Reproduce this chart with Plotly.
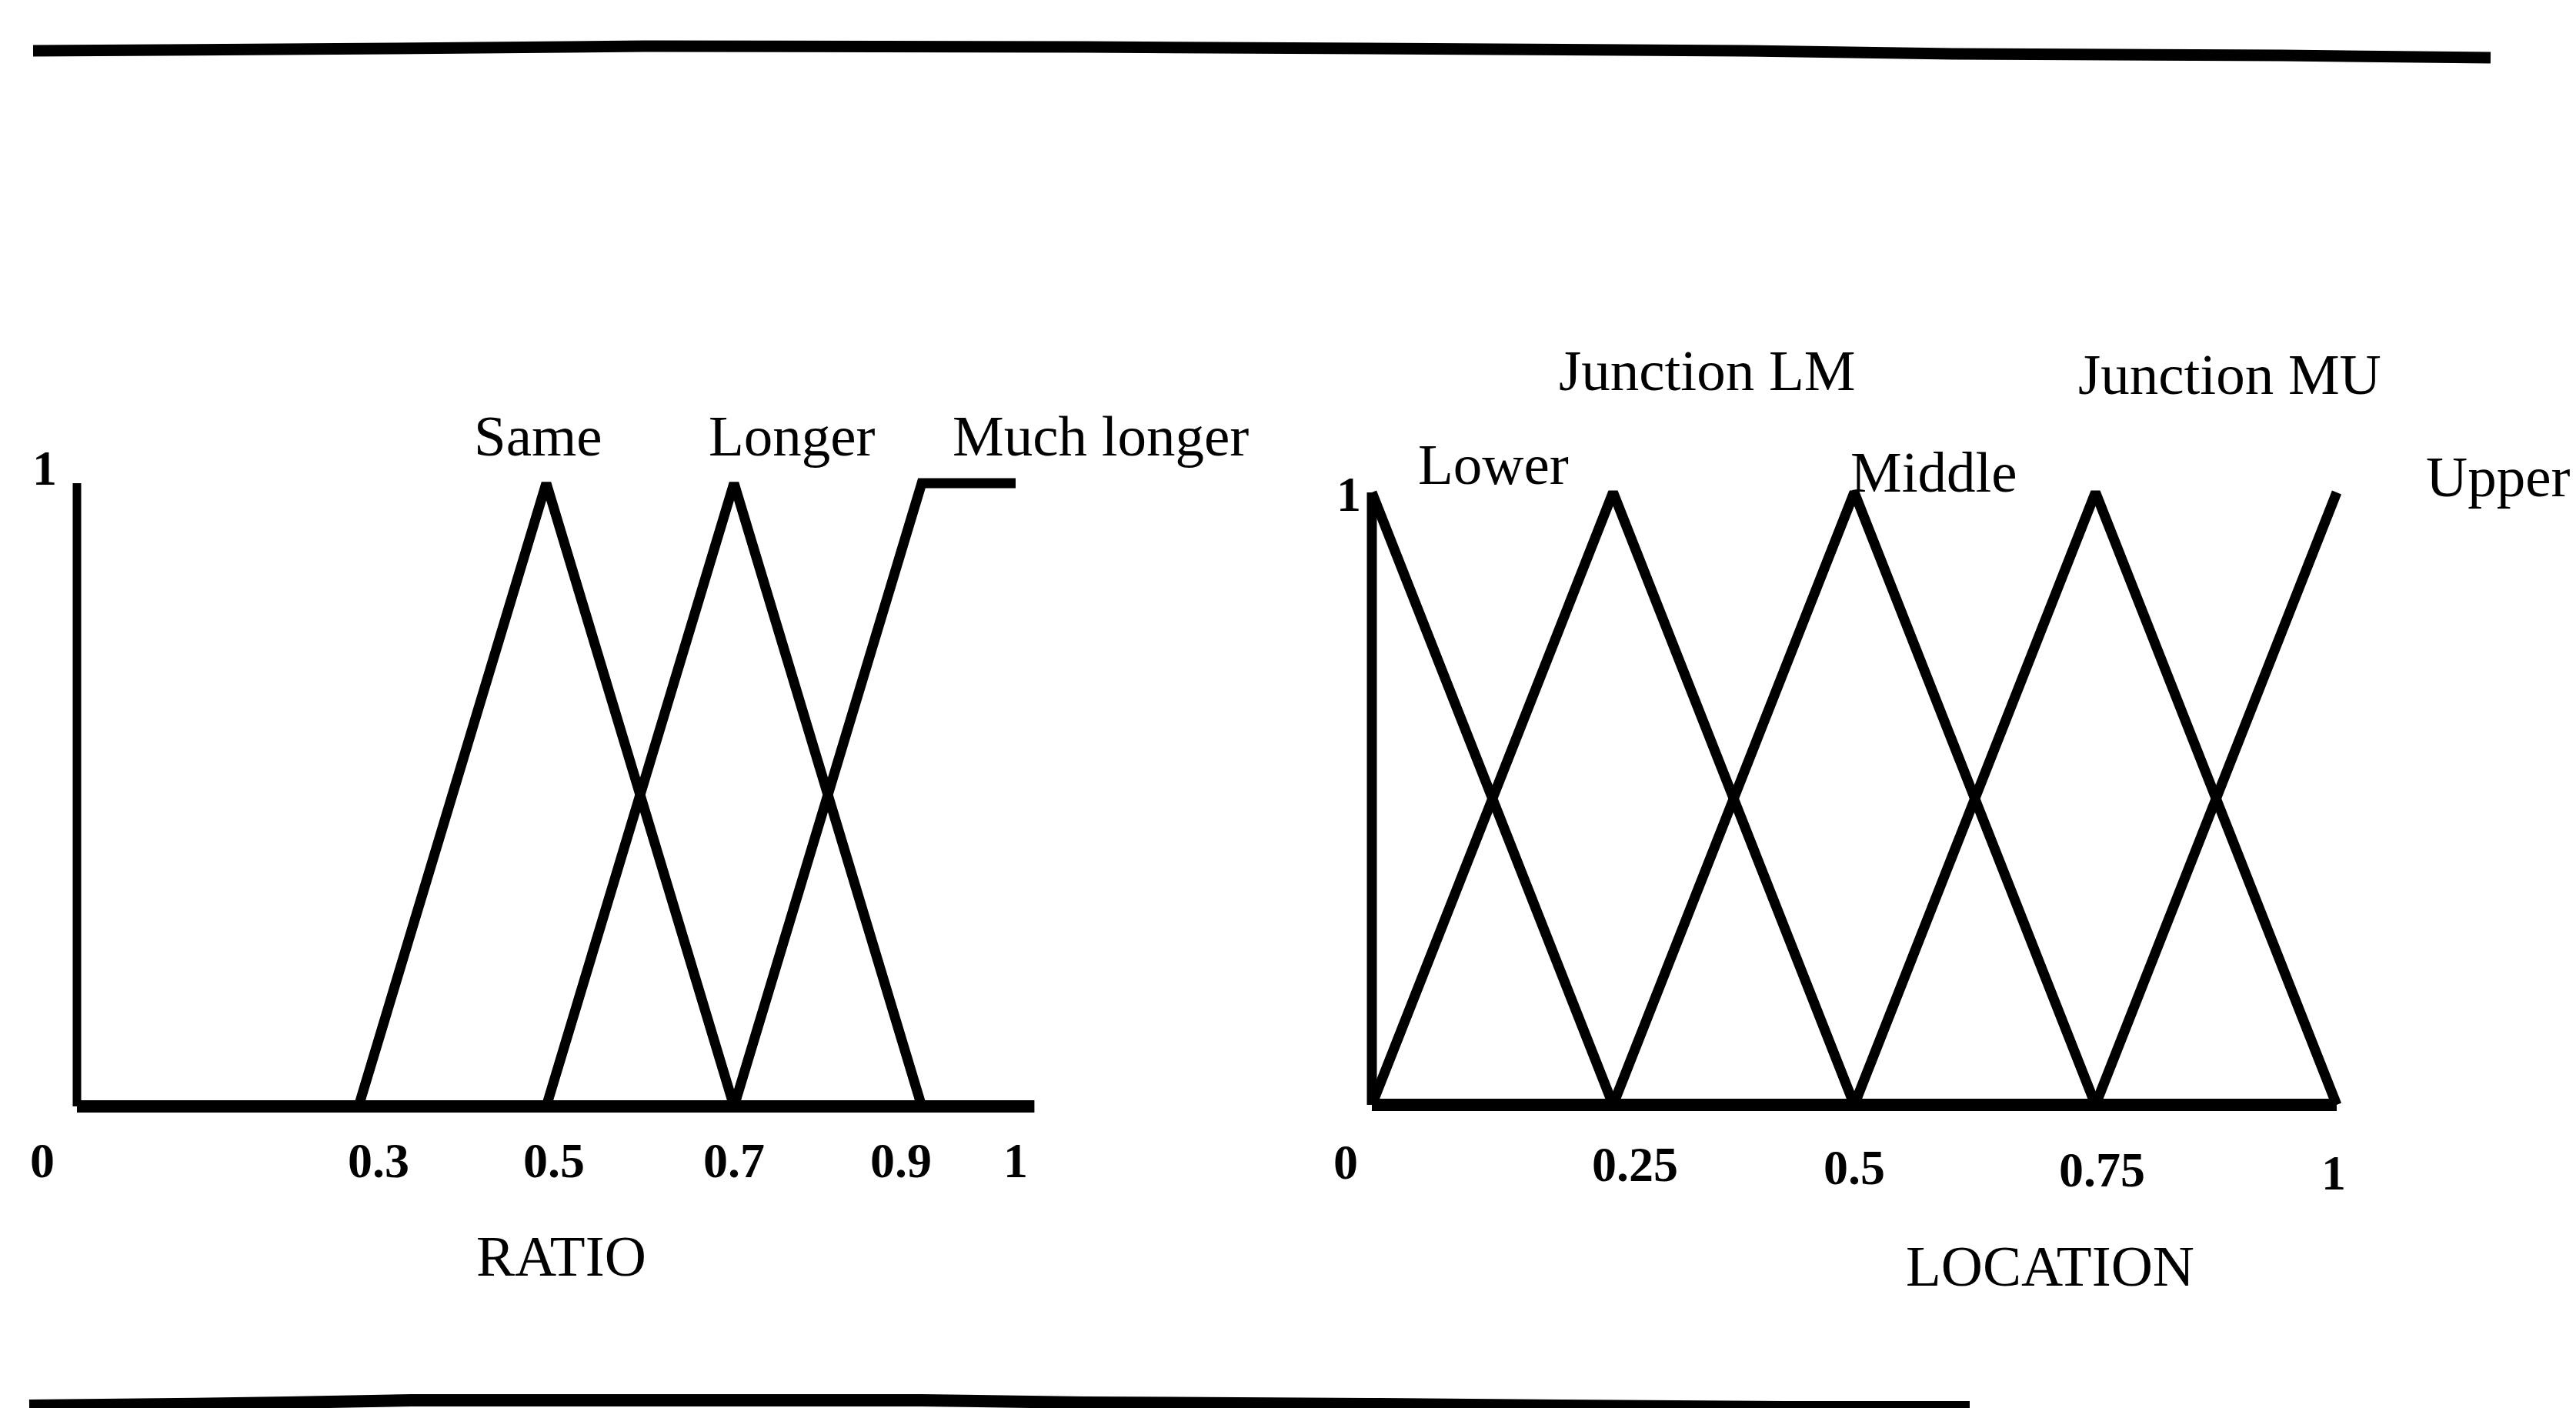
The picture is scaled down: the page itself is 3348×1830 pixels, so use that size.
import plotly.graph_objects as go

W, H = 3348, 1830

# ---------------- data ----------------
ratio_ticks = [0, 0.3, 0.5, 0.7, 0.9, 1]
ratio_tick_labels = ["0", "0.3", "0.5", "0.7", "0.9", "1"]
ratio_names = ["Same", "Longer", "Much longer"]
ratio_x = [[0.3, 0.5, 0.7], [0.5, 0.7, 0.9], [0.7, 0.9, 1.0]]
ratio_y = [[0, 1, 0], [0, 1, 0], [0, 1, 1]]

loc_ticks = [0, 0.25, 0.5, 0.75, 1]
loc_tick_labels = ["0", "0.25", "0.5", "0.75", "1"]
loc_names = ["Lower", "Junction LM", "Middle", "Junction MU", "Upper"]
loc_x = [[0, 0.25], [0, 0.25, 0.5], [0.25, 0.5, 0.75], [0.5, 0.75, 1.0], [0.75, 1.0]]
loc_y = [[1, 0], [0, 1, 0], [0, 1, 0], [0, 1, 0], [0, 1]]

# ---------------- geometry helpers ----------------
def px(x):
    return x / W

def py(y):
    return 1 - y / H

# left chart: data 0 -> 100px, 1 -> 1320px ; y 0 -> 1438px, 1 -> 628px
L_X0, L_XS = 100, 1220
L_Y0, L_YS = 1438, 810
# right chart: data 0 -> 1783px, 1 -> 3037px ; y 0 -> 1436px, 1 -> 640px
R_X0, R_XS = 1783, 1254
R_Y0, R_YS = 1436, 796
PAD = 0.05

def xdom(x0, xs):
    return [px(x0 - PAD * xs), px(x0 + (1 + PAD) * xs)]

def ydom(y0, ys):
    return [py(y0 + PAD * ys), py(y0 - (1 + PAD) * ys)]

FONT = "Liberation Serif, Times New Roman, serif"
LW = 13
BW = 16

fig = go.Figure()

# left chart axes lines (drawn as data)
fig.add_trace(go.Scatter(x=[0, 0], y=[1, 0], mode="lines", line=dict(color="black", width=LW - 2),
                         xaxis="x", yaxis="y", hoverinfo="skip"))
fig.add_trace(go.Scatter(x=[0, 1.02], y=[0, 0], mode="lines", line=dict(color="black", width=BW),
                         xaxis="x", yaxis="y", hoverinfo="skip"))
for name, xs, ys in zip(ratio_names, ratio_x, ratio_y):
    fig.add_trace(go.Scatter(x=xs, y=ys, mode="lines", name=name,
                             line=dict(color="black", width=LW), xaxis="x", yaxis="y"))

# right chart axes
fig.add_trace(go.Scatter(x=[0, 0], y=[1, 0], mode="lines", line=dict(color="black", width=LW),
                         xaxis="x2", yaxis="y2", hoverinfo="skip"))
fig.add_trace(go.Scatter(x=[0, 1], y=[0, 0], mode="lines", line=dict(color="black", width=BW),
                         xaxis="x2", yaxis="y2", hoverinfo="skip"))
for name, xs, ys in zip(loc_names, loc_x, loc_y):
    fig.add_trace(go.Scatter(x=xs, y=ys, mode="lines", name=name,
                             line=dict(color="black", width=LW), xaxis="x2", yaxis="y2"))

ann = []
# tick labels
tick_font = dict(family=FONT, size=64, color="black")
lshift = {0: -45, 0.3: 26, 0.5: 10, 0.9: -27}
for t, lab in zip(ratio_ticks, ratio_tick_labels):
    ann.append(dict(x=t, xref="x", y=py(1508), yref="paper", text="<b>%s</b>" % lab,
                    showarrow=False, xanchor="center", yanchor="middle",
                    xshift=lshift.get(t, 0), font=tick_font))
rshift = {0: -34, 0.25: 28, 0.75: 8, 1: -4}
for t, lab in zip(loc_ticks, loc_tick_labels):
    ann.append(dict(x=t, xref="x2", y=py(1510 + 14 * t), yref="paper", text="<b>%s</b>" % lab,
                    showarrow=False, xanchor="center", yanchor="middle",
                    xshift=rshift.get(t, 0), font=tick_font))
# y "1" labels
ann.append(dict(x=px(58), y=py(608), xref="paper", yref="paper", text="<b>1</b>", showarrow=False,
                xanchor="center", yanchor="middle", font=dict(family=FONT, size=64, color="black")))
ann.append(dict(x=px(1753), y=py(642), xref="paper", yref="paper", text="<b>1</b>", showarrow=False,
                xanchor="center", yanchor="middle", font=dict(family=FONT, size=64, color="black")))

lab_font = dict(family=FONT, size=75, color="black")
ratio_label_pos = [(699, 566), (1029, 566), (1430, 566)]
for name, (lx, ly) in zip(ratio_names, ratio_label_pos):
    ann.append(dict(x=px(lx), y=py(ly), xref="paper", yref="paper", text=name, showarrow=False,
                    xanchor="center", yanchor="middle", font=lab_font))
loc_label_pos = [(1941, 604), (2218, 482), (2513, 613), (2898, 486)]
for name, (lx, ly) in zip(loc_names[:4], loc_label_pos):
    ann.append(dict(x=px(lx), y=py(ly), xref="paper", yref="paper", text=name, showarrow=False,
                    xanchor="center", yanchor="middle", font=lab_font))
ann.append(dict(x=px(3342), y=py(620), xref="paper", yref="paper", text=loc_names[4], showarrow=False,
                xanchor="right", yanchor="middle", font=lab_font))
# axis titles
ann.append(dict(x=px(729), y=py(1632), xref="paper", yref="paper", text="RATIO", showarrow=False,
                xanchor="center", yanchor="middle", font=lab_font))
ann.append(dict(x=px(2664), y=py(1645), xref="paper", yref="paper", text="LOCATION", showarrow=False,
                xanchor="center", yanchor="middle", font=lab_font))

# page rules (scan borders)
top_pts = [(43, 66), (512, 63), (839, 60), (1410, 61), (1944, 64), (2265, 66), (2538, 70), (2966, 72), (3237, 75)]
bot_pts = [(38, 1827), (229, 1825), (374, 1823), (534, 1820), (1197, 1820), (1410, 1823),
           (1795, 1825), (2030, 1827), (2318, 1829), (2560, 1829)]

def path(pts):
    s = "M %f %f" % (px(pts[0][0]), py(pts[0][1]))
    for x, y in pts[1:]:
        s += " L %f %f" % (px(x), py(y))
    return s

shapes = [
    dict(type="path", xref="paper", yref="paper", path=path(top_pts), line=dict(color="black", width=15)),
    dict(type="path", xref="paper", yref="paper", path=path(bot_pts), line=dict(color="black", width=16)),
]

ax_common = dict(visible=False, range=[-PAD, 1 + PAD], fixedrange=True)
fig.update_layout(
    width=W, height=H, autosize=False,
    margin=dict(l=0, r=0, t=0, b=0),
    paper_bgcolor="white", plot_bgcolor="white",
    showlegend=False,
    xaxis=dict(domain=xdom(L_X0, L_XS), anchor="y", **ax_common),
    yaxis=dict(domain=ydom(L_Y0, L_YS), anchor="x", **ax_common),
    xaxis2=dict(domain=xdom(R_X0, R_XS), anchor="y2", **ax_common),
    yaxis2=dict(domain=ydom(R_Y0, R_YS), anchor="x2", **ax_common),
    annotations=ann,
    shapes=shapes,
)

fig.write_html(
    "out.html",
    config={"displayModeBar": False},
    post_script="document.body.style.margin='0';document.body.style.overflow='hidden';",
)
